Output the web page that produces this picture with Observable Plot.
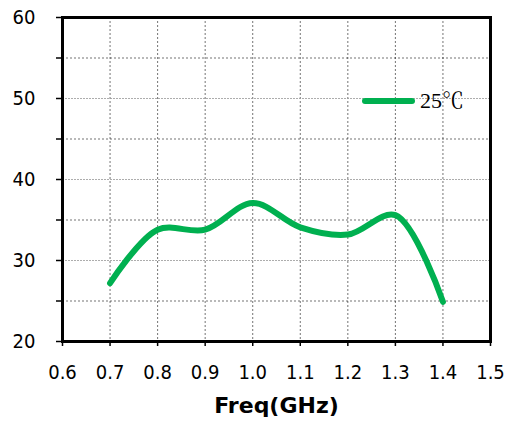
<!DOCTYPE html>
<html>
<head>
<meta charset="utf-8">
<script src="https://cdn.jsdelivr.net/npm/d3@7"></script>
<script src="https://cdn.jsdelivr.net/npm/@observablehq/plot@0.6"></script>
<style>
  body { margin: 0; background: #fff; }
  #chart { position: relative; width: 507px; height: 424px; }
  #chart svg { font-family: "DejaVu Sans Condensed", "DejaVu Sans", Verdana, sans-serif; }
  g[aria-label="x-axis label"] text { font-family: "DejaVu Sans", sans-serif; font-weight: bold; font-size: 22px; }
  .legend { position: absolute; left: 362px; top: 88px; height: 26px; display: flex; align-items: center; }
  .legend .swatch { width: 53px; height: 6px; border-radius: 3px; background: #00B050; margin-right: 5px; }
  .legend span { font-family: "Liberation Serif", "Noto Serif CJK SC", "Noto Sans CJK SC", serif; font-size: 22px; line-height: 26px; color: #000; }
</style>
</head>
<body>
<div id="chart"></div>
<script>
// Frequency sweep (GHz) and measured values at 25 ℃
const freq = [0.7, 0.8, 0.9, 1.0, 1.1, 1.2, 1.3, 1.4];
const gain = [27.2, 33.8, 33.8, 37.1, 34.1, 33.2, 35.6, 24.9];
const seriesName = "25℃";

// Axis ticks
const xTicks = [0.6, 0.7, 0.8, 0.9, 1.0, 1.1, 1.2, 1.3, 1.4, 1.5];
const yMajor = [20, 30, 40, 50, 60];
const yMinor = [25, 35, 45, 55];

const rows = freq.map((f, i) => ({freq: f, value: gain[i]}));
const yAll = [...yMajor, ...yMinor].sort((a, b) => a - b);

const chart = Plot.plot({
  width: 507,
  height: 424,
  marginLeft: 62,
  marginRight: 17,
  marginTop: 17,
  marginBottom: 83,
  style: {fontSize: "20px", color: "#000"},
  x: {domain: [0.6, 1.5]},
  y: {domain: [20, 60]},
  marks: [
    Plot.gridX(xTicks.slice(1, -1), {stroke: "#000", strokeOpacity: 0.55, strokeDasharray: "2,2"}),
    Plot.gridY(yMajor.slice(1, -1), {stroke: "#999", strokeOpacity: 0.8, strokeDasharray: "2,1"}),
    Plot.gridY(yMinor, {stroke: "#000", strokeOpacity: 0.55, strokeDasharray: "2,2"}),
    Plot.axisY(yAll, {
      tickSize: 6, tickPadding: 21, tickFormat: d => (d % 10 === 0 ? d : ""),
      label: null, stroke: "#000", strokeWidth: 1.5
    }),
    Plot.axisX(xTicks, {
      tickSize: 5, tickPadding: 18, tickFormat: d3.format(".1f"),
      label: "Freq(GHz)", labelAnchor: "center", labelArrow: "none", labelOffset: 71,
      stroke: "#000", strokeWidth: 1.5
    }),
    Plot.line(rows, {
      x: "freq", y: "value", curve: "catmull-rom",
      stroke: "#00B050", strokeWidth: 6, strokeLinecap: "round", strokeLinejoin: "round"
    }),
    Plot.frame({stroke: "#000", strokeWidth: 3})
  ]
});

const host = document.getElementById("chart");
host.appendChild(chart);

// Legend for the single series
const legend = document.createElement("div");
legend.className = "legend";
legend.innerHTML = `<div class="swatch"></div><span>${seriesName}</span>`;
host.appendChild(legend);
</script>
</body>
</html>
